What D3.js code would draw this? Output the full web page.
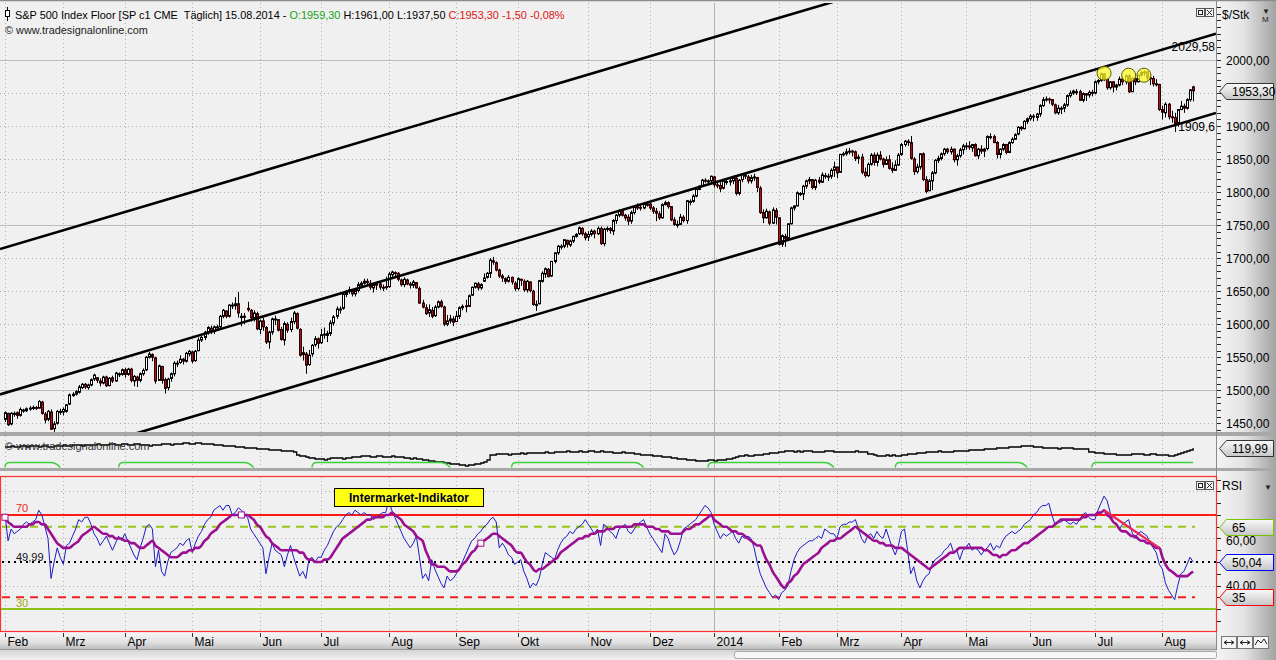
<!DOCTYPE html>
<html><head><meta charset="utf-8"><title>S&P 500 Index Floor</title>
<script src="https://cdn.jsdelivr.net/npm/d3@7/dist/d3.min.js"></script>
<style>
html,body{margin:0;padding:0;background:#f0f0f0;overflow:hidden;}
svg{display:block;font-family:"Liberation Sans",Arial,sans-serif;}
</style></head><body>
<svg id="chart" width="1276" height="660"></svg>
<script>
// ================= DATA =================
const monthLabels=["Feb","Mrz","Apr","Mai","Jun","Jul","Aug","Sep","Okt","Nov","Dez","2014","Feb","Mrz","Apr","Mai","Jun","Jul","Aug"];
const monthStart=[0,19,39,61,83,103,125,147,167,190,210,231,252,271,292,313,334,355,377];
const priceTicks=[1450,1500,1550,1600,1650,1700,1750,1800,1850,1900,1950,2000];
const priceLabels=[1450,1500,1550,1600,1650,1700,1750,1800,1850,1900,2000];
const priceMajor=[1500,1750,2000];

const openP=[
1456,1465,1449,1464,1466,1462,1470,1469,1472,1473,1474,1473,1482,1464,1456,1467,1442,1450,1467,
1467,1468,1479,1492,1494,1497,1504,1509,1504,1508,1517,1519,1514,1511,1520,1507,1519,1514,1525,1524,
1531,1524,1532,1514,1520,1515,1525,1531,1550,1554,1549,1515,1536,1516,1504,1518,1525,1540,1542,1547,1544,1555,
1558,1545,1560,1576,1580,1588,1594,1589,1595,1596,1612,1620,1612,1628,1628,1631,1610,1612,1624,1621,1610,1616,
1592,1605,1595,1573,1588,1608,1607,1592,1576,1600,1592,1604,1616,1592,1554,1555,1539,1555,1569,1578,
1572,1584,1583,1586,1602,1612,1622,1624,1645,1650,1651,1646,1651,1659,1662,1665,1662,1655,1659,1661,1656,1657,
1657,1675,1678,1677,1667,1660,1667,1661,1659,1663,1654,1632,1625,1617,1621,1613,1626,1634,1626,1600,1605,1608,
1604,1612,1625,1628,1627,1644,1656,1661,1655,1665,1671,1677,1696,1693,1682,1673,1669,1665,1671,1662,
1654,1668,1665,1652,1664,1650,1630,1631,1665,1676,1683,1673,1695,1708,1718,1718,1727,1720,1726,1733,1737,1745,1737,
1732,1736,1741,1737,1745,1722,1744,1745,1741,1757,1765,1772,1765,1762,1756,1769,1778,1777,1776,1782,
1782,1776,1771,1767,1761,1781,1784,1778,1758,1751,1751,1762,1757,1786,1786,1794,1804,1809,1818,1817,1817,
1823,1811,1810,1806,1816,1816,1817,1821,1798,1819,1826,1823,1817,1822,1822,1806,1769,1761,1770,1753,1772,
1761,1721,1733,1730,1752,1776,1779,1798,1797,1809,1817,1819,1807,1818,1815,1825,1823,1824,1833,
1838,1830,1857,1858,1861,1862,1861,1851,1853,1830,1825,1842,1856,1845,1856,1850,1842,1849,1836,1833,1841,
1857,1872,1877,1875,1850,1831,1838,1858,1819,1802,1817,1829,1848,1851,1858,1865,1861,1865,1849,1855,1864,
1870,1870,1867,1872,1855,1865,1862,1866,1884,1884,1875,1857,1865,1872,1860,1875,1880,1888,1898,1896,1907,
1911,1915,1913,1918,1931,1940,1941,1940,1932,1920,1927,1927,1932,1946,1950,1952,1952,1939,1949,1947,1951,
1950,1967,1969,1979,1971,1958,1967,1959,1962,1971,1967,1976,1952,1972,1967,1977,1981,1982,1973,1972,1964,1963,
1925,1920,1933,1914,1913,1904,1925,1930,1927,1940,1959.3];
const highP=[
1468,1466,1467,1468,1468,1474,1472,1474,1476,1477,1476,1485,1484,1467,1470,1471,1453,1470,1472,
1474,1479,1495,1497,1500,1508,1511,1511,1510,1518,1525,1520,1518,1522,1522,1520,1522,1528,1527,1533,
1534,1534,1534,1523,1522,1527,1533,1552,1558,1556,1551,1539,1537,1519,1519,1527,1544,1545,1553,1549,1558,1561,
1560,1561,1580,1582,1590,1597,1598,1598,1599,1614,1623,1621,1630,1633,1641,1649,1617,1617,1634,1623,1621,1619,
1607,1610,1597,1590,1610,1613,1607,1596,1604,1603,1610,1620,1618,1594,1566,1558,1561,1570,1582,1580,
1593,1595,1590,1606,1614,1627,1627,1648,1652,1657,1653,1654,1664,1665,1669,1669,1667,1662,1664,1663,1660,1672,
1679,1681,1680,1679,1669,1671,1669,1664,1667,1664,1657,1637,1630,1630,1626,1629,1636,1637,1628,1614,1614,1612,
1620,1627,1630,1637,1645,1657,1663,1664,1662,1677,1679,1700,1702,1695,1684,1676,1671,1674,1672,1665,
1671,1669,1668,1667,1665,1652,1636,1667,1680,1686,1685,1696,1709,1720,1721,1729,1728,1728,1734,1738,1748,1747,1740,
1741,1744,1743,1748,1748,1746,1748,1747,1759,1767,1774,1774,1767,1766,1772,1780,1783,1780,1785,1786,
1784,1779,1776,1771,1783,1787,1786,1779,1762,1757,1767,1765,1788,1789,1797,1805,1810,1820,1821,1819,1825,
1824,1816,1815,1820,1820,1821,1825,1823,1820,1829,1829,1826,1826,1828,1823,1809,1774,1775,1772,1777,1776,
1762,1736,1737,1753,1778,1780,1801,1800,1811,1819,1823,1820,1820,1823,1830,1829,1828,1836,1846,
1839,1858,1861,1866,1867,1864,1863,1857,1858,1837,1845,1859,1860,1860,1862,1852,1854,1856,1845,1848,1859,
1874,1879,1880,1885,1853,1843,1859,1860,1824,1820,1832,1850,1855,1860,1867,1867,1869,1866,1858,1867,1873,
1875,1877,1873,1874,1867,1871,1867,1886,1889,1887,1877,1866,1874,1873,1877,1883,1889,1900,1900,1909,1913,
1918,1918,1920,1933,1944,1945,1943,1941,1934,1932,1930,1935,1948,1954,1955,1956,1955,1951,1950,1954,1955,
1969,1971,1981,1980,1972,1968,1968,1964,1975,1975,1978,1979,1974,1973,1978,1983,1984,1983,1976,1976,1971,1964,
1931,1936,1935,1923,1920,1926,1938,1934,1942,1956,1961];
const lowP=[
1452,1446,1447,1460,1457,1460,1466,1467,1469,1470,1470,1472,1463,1450,1453,1440,1437,1448,1463,
1462,1466,1478,1490,1492,1495,1502,1502,1501,1506,1514,1511,1506,1509,1505,1506,1511,1513,1520,1522,
1519,1522,1512,1506,1505,1512,1522,1529,1548,1544,1510,1516,1510,1495,1500,1513,1521,1535,1540,1539,1542,1551,
1541,1543,1559,1573,1576,1584,1585,1585,1590,1593,1609,1609,1610,1623,1622,1610,1597,1600,1619,1604,1604,1591,
1585,1590,1570,1563,1584,1599,1589,1575,1568,1587,1588,1600,1592,1551,1545,1525,1537,1551,1566,1563,
1570,1578,1573,1582,1598,1608,1616,1622,1641,1646,1642,1642,1648,1655,1660,1659,1652,1648,1652,1652,1650,1652,
1655,1670,1673,1665,1657,1656,1659,1654,1655,1654,1631,1624,1614,1611,1609,1611,1624,1625,1597,1597,1601,1597,
1604,1608,1621,1618,1626,1643,1654,1651,1652,1664,1669,1670,1690,1680,1670,1664,1661,1663,1660,1650,
1651,1658,1649,1648,1648,1628,1620,1630,1663,1670,1671,1672,1692,1705,1713,1715,1716,1717,1723,1731,1735,1734,1727,
1726,1733,1730,1735,1720,1718,1740,1737,1735,1752,1762,1763,1757,1750,1752,1766,1773,1772,1774,1778,
1773,1767,1756,1758,1760,1780,1775,1756,1749,1746,1750,1754,1752,1780,1784,1792,1803,1808,1814,1813,1814,
1807,1806,1800,1804,1811,1810,1812,1795,1795,1815,1820,1813,1813,1817,1800,1767,1753,1760,1750,1752,1751,
1719,1717,1717,1729,1751,1772,1779,1794,1788,1805,1812,1804,1803,1812,1814,1820,1817,1820,1823,
1821,1829,1854,1855,1857,1854,1847,1843,1827,1822,1823,1840,1840,1839,1848,1837,1841,1834,1829,1832,1840,
1855,1869,1870,1849,1826,1828,1834,1817,1798,1802,1803,1827,1844,1848,1855,1858,1857,1845,1840,1852,1857,
1864,1864,1861,1854,1850,1858,1853,1863,1880,1874,1851,1851,1862,1857,1859,1873,1879,1886,1893,1895,1903,
1908,1907,1908,1914,1929,1937,1934,1930,1918,1917,1918,1921,1929,1943,1947,1947,1938,1936,1938,1943,1945,
1948,1963,1967,1968,1955,1955,1951,1954,1960,1962,1963,1950,1952,1962,1966,1975,1976,1969,1962,1960,1960,1923,
1910,1913,1910,1905,1891,1899,1924,1920,1925,1937,1937.5];
const closeP=[
1466,1448,1465,1465,1462,1471,1470,1472,1473,1474,1473,1483,1465,1455,1468,1441,1449,1468,1468,
1471,1478,1493,1494,1498,1505,1509,1505,1508,1516,1523,1515,1511,1520,1507,1518,1514,1526,1525,1531,
1524,1532,1515,1521,1515,1525,1530,1550,1555,1550,1514,1537,1515,1503,1517,1525,1541,1541,1547,1544,1556,1559,
1544,1559,1576,1580,1588,1595,1589,1596,1596,1612,1621,1612,1629,1629,1631,1617,1612,1612,1622,1610,1617,1593,
1605,1596,1573,1588,1608,1608,1591,1577,1601,1591,1604,1617,1594,1553,1557,1538,1553,1568,1578,1571,
1584,1585,1586,1602,1611,1623,1623,1645,1650,1652,1646,1651,1660,1662,1665,1663,1656,1660,1662,1656,1656,1656,
1676,1679,1677,1668,1660,1668,1661,1659,1664,1655,1632,1626,1616,1622,1612,1626,1634,1627,1600,1605,1608,1603,
1612,1625,1627,1627,1643,1656,1662,1655,1660,1670,1677,1697,1694,1682,1673,1670,1665,1671,1664,1654,
1669,1667,1652,1665,1651,1630,1630,1666,1677,1684,1672,1695,1708,1718,1718,1728,1721,1726,1733,1736,1746,1737,1731,
1736,1741,1737,1745,1722,1744,1745,1742,1757,1765,1772,1765,1761,1756,1769,1778,1776,1776,1782,1780,
1776,1771,1768,1761,1781,1784,1778,1758,1751,1751,1762,1757,1787,1786,1794,1804,1809,1818,1817,1817,1824,
1811,1810,1805,1817,1816,1817,1822,1798,1818,1827,1824,1817,1822,1823,1807,1769,1761,1771,1753,1773,1762,
1721,1734,1730,1752,1776,1779,1799,1798,1809,1817,1819,1807,1818,1815,1826,1824,1824,1833,1838,
1829,1857,1858,1861,1862,1861,1851,1853,1830,1825,1842,1856,1845,1856,1850,1842,1849,1836,1833,1841,1856,
1872,1877,1875,1851,1831,1838,1858,1819,1801,1817,1829,1848,1851,1858,1865,1861,1865,1849,1855,1864,1870,
1870,1868,1872,1855,1865,1862,1865,1884,1884,1875,1857,1865,1872,1860,1875,1880,1887,1898,1896,1907,1911,
1915,1914,1918,1931,1940,1941,1940,1933,1920,1927,1927,1932,1946,1950,1953,1952,1939,1949,1947,1951,1950,
1967,1969,1979,1971,1958,1967,1959,1962,1971,1967,1976,1952,1972,1967,1977,1981,1982,1973,1972,1964,1964,1925,
1921,1933,1914,1913,1904,1925,1930,1927,1940,1954.8,1953.3];

// channel lines: [barA, priceA, barB, priceB]
const channelLines=[[0,1716,387,2249.7],[0,1495.9,387,2029.58],[0,1375.9,387,1909.6]];
const channelLabels=[["2029,58",2029.58],["1909,6",1909.6]];
const highlights=[[358,1980],[366,1977],[371,1977]];
const lastClose=1953.30;

// Intermarket line (middle panel)
const interLine=[
121,121,122,121,121,122,122,121,122,122,122,121,122,122,121,121,
122,122,122,123,122,122,123,123,123,122,123,123,123,123,124,123,
123,123,124,124,123,123,124,124,123,123,124,124,123,123,123,122,
123,123,123,124,124,124,123,124,124,124,125,125,124,124,
125,125,124,124,124,124,123,123,123,122,122,122,122,121,121,121,120,120,
120,120,119,119,119,119,118,118,118,118,117,117,117,117,116,113,112,
112,111,110,110,109,109,109,108,109,110,110,110,110,109,110,110,111,
111,111,112,112,112,111,111,112,112,111,111,111,112,111,111,111,110,110,109,110,109,109,108,
108,107,107,106,106,106,105,105,104,104,104,103,103,102,103,103,104,104,105,106,108,
113,113,114,114,114,114,113,114,114,114,115,114,115,
115,115,115,115,115,116,115,115,116,116,116,116,117,116,116,116,117,116,116,117,117,116,116,117,116,116,116,115,115,115,116,115,115,115,114,114,113,113,
113,113,112,112,112,111,111,111,110,110,109,109,109,108,108,108,107,107,107,107,108,108,
107,108,108,108,109,109,110,111,112,112,113,112,112,113,113,113,114,114,115,115,
115,116,116,117,117,117,116,117,116,117,117,117,116,116,116,116,117,117,117,116,116,116,116,116,116,116,117,116,116,116,
114,114,113,112,112,112,113,112,113,112,112,113,113,114,114,114,115,115,115,116,
116,116,116,117,116,116,116,116,117,117,117,117,117,118,118,118,118,118,119,119,119,119,120,120,120,120,121,121,121,121,
122,122,122,122,121,121,121,120,120,120,120,120,119,120,120,120,120,119,119,119,119,119,
116,116,115,115,115,114,114,114,114,113,113,113,113,113,114,114,114,114,113,113,114,114,
113,113,113,113,112,112,113,114,115,116,117,118,119.99];
const interLast=119.99;
const regimeSegs=[[0,18],[37,81],[100,145],[165,208],[229,270],[290,333],[354,387]];

// RSI panel
const rsiBlue=[
70,59,64,62,63,64,66,67,66,67,68,72,70,65,60,43,50,56,52,49,
57,58,61,64,68,67,69,69,66,62,60,57,59,61,58,55,58,61,59,
62,59,56,53,51,56,60,65,66,64,48,55,46,44,50,54,55,56,58,57,59,60,
54,58,61,63,66,68,69,72,73,74,72,74,74,70,71,73,72,70,69,64,62,60,
58,56,45,52,58,55,54,53,48,53,57,52,48,44,46,43,51,52,50,52,
52,55,57,60,63,65,66,68,70,71,70,72,71,70,71,70,70,68,69,70,71,71,
76,72,69,66,63,60,58,56,58,61,52,43,45,42,51,47,44,41,39,44,42,43,
45,47,50,53,56,59,60,62,63,65,66,68,69,67,56,58,56,53,52,49,
50,51,46,43,39,41,40,43,49,54,53,52,51,55,58,60,61,63,62,64,65,66,68,
66,64,62,64,57,66,65,63,62,60,64,65,66,63,62,64,66,67,68,65,
62,60,58,56,54,62,60,56,53,55,59,64,65,66,67,68,70,72,74,73,71,
66,63,60,62,61,62,63,60,58,61,60,61,60,56,50,45,42,39,37,35,36,
34,37,38,40,46,51,54,56,57,58,59,59,60,61,60,64,63,62,62,
60,65,66,66,67,67,68,64,60,58,61,62,60,63,61,60,64,60,56,53,57,
63,64,55,45,48,42,39,42,44,45,49,51,52,53,55,56,58,54,55,51,55,
56,58,55,56,55,53,55,56,58,55,57,56,59,61,62,63,62,63,64,66,67,
68,70,71,73,74,74,75,70,66,67,67,68,67,66,67,66,68,70,71,69,68,
68,72,75,78,76,71,67,66,64,66,67,68,63,60,62,63,62,61,58,56,54,49,
47,41,38,36,34,40,45,46,49,52,50.04];
const rsiAvg=[
69,67,66,65,65,65,65,65,66,66,67,67,66,66,64,62,60,58,57,56,
56,56,57,58,59,61,62,63,64,65,64,63,62,62,61,61,60,60,60,59,
59,58,58,57,56,56,57,58,59,57,56,55,54,53,52,52,52,53,54,54,
55,55,56,56,57,59,60,62,63,64,66,67,68,69,70,70,70,70,70,70,
69,68,66,65,63,61,60,58,57,56,55,55,55,55,55,55,54,54,52,51,
51,50,50,50,51,51,52,54,56,58,60,61,62,63,64,65,66,67,68,68,
69,69,69,69,70,70,71,70,69,68,66,65,64,63,61,60,59,55,52,49,
49,48,48,48,47,46,46,46,47,49,50,52,54,55,57,58,59,60,61,62,
62,61,60,59,58,57,55,54,54,52,50,49,47,46,47,47,48,49,50,51,
52,54,55,56,57,58,59,60,60,61,61,62,62,63,63,63,64,64,64,65,
65,65,65,65,65,66,66,66,66,65,65,65,64,64,63,63,63,62,62,62,
62,63,64,64,65,66,66,67,68,69,70,68,67,66,65,65,64,63,63,62,
62,61,60,59,58,57,57,54,51,49,46,44,42,40,39,41,42,44,45,47,
49,50,51,52,53,54,56,57,58,59,59,60,60,61,62,63,64,65,64,63,
62,61,60,59,59,58,58,57,57,57,56,56,56,55,54,53,52,51,50,49,
48,47,48,49,50,51,52,53,54,54,55,56,56,56,56,56,56,56,56,55,
55,54,53,53,52,53,53,54,55,55,56,57,58,58,59,60,61,62,63,64,
65,65,66,67,68,68,68,68,68,68,68,69,69,70,70,70,71,71,72,70,
69,67,66,64,63,63,62,61,61,60,59,59,58,58,57,56,56,52,49,47,
46,45,44,44,44,44,45,46];
const rsiLevelUpper=70, rsiLevelOB=65, rsiLevelMid=49.99, rsiLevelOS=35, rsiLevelLower=30;
const rsiAxisLabels=[40,60];
const rsiGrid=[40,60,80];
const avgMarks=[0,77,155];
const rsiTrend=[[358,72],[376,56]];
const rsiLast=50.04;

// ================= DRAW =================
const W=1276,H=660,PR=1216;
const svg=d3.select("#chart");
const x=d3.scaleLinear().domain([0,387]).range([5,1193.1]);
const yP=d3.scaleLinear().domain([1450,2000]).range([423.3,60]);
const yM=d3.scaleLinear().domain([100,120]).range([468,448]);
const yR=d3.scaleLinear().domain([35,65]).range([597.3,526.7]);
const fmt2=v=>d3.format(".2f")(v).replace(".",",");
const px=i=>Math.round(x(i));

const defs=svg.append("defs");
function grad(id,vert,stops){const g=defs.append("linearGradient").attr("id",id).attr("x1",0).attr("y1",0).attr("x2",vert?0:1).attr("y2",vert?1:0);stops.forEach(s=>g.append("stop").attr("offset",s[0]).attr("stop-color",s[1]));}
grad("gAx",false,[[0,"#f3f3f3"],[0.45,"#e4e4e4"],[1,"#a2a2a2"]]);
grad("gBot",true,[[0,"#f7f7f7"],[0.55,"#e2e2e2"],[1,"#b9b9b9"]]);
grad("gMk",true,[[0,"#fafafa"],[1,"#c6c6c6"]]);
grad("gScr",true,[[0,"#d4d4d4"],[1,"#f2f2f2"]]);
function clip(id,x0,y0,w,h){defs.append("clipPath").attr("id",id).append("rect").attr("x",x0).attr("y",y0).attr("width",w).attr("height",h);}
clip("cMain",0,3,PR,429);
clip("cMid",0,437,PR,31);
clip("cRsi",1,477,PR-1,154);

// backgrounds
svg.append("rect").attr("width",W).attr("height",H).attr("fill","#f0f0f0");
svg.append("rect").attr("x",PR+1).attr("y",0).attr("width",W-PR-1).attr("height",H).attr("fill","url(#gAx)");
svg.append("rect").attr("x",0).attr("y",632).attr("width",PR+1).attr("height",18).attr("fill","url(#gBot)");
svg.append("line").attr("x1",0).attr("x2",PR+1).attr("y1",649.5).attr("y2",649.5).attr("stroke","#9a9a9a");
svg.append("rect").attr("x",0).attr("y",650).attr("width",PR+1).attr("height",10).attr("fill","url(#gScr)");
svg.append("rect").attr("x",734.5).attr("y",651.5).attr("width",482).attr("height",7).attr("rx",2).attr("fill","#f6f6f6").attr("stroke","#a6a6a6");
svg.append("line").attr("x1",0).attr("x2",W).attr("y1",0.5).attr("y2",0.5).attr("stroke","#8c8c8c").attr("stroke-width",1.5);

// separators
[[432,4],[468,3]].forEach(s=>svg.append("rect").attr("x",0).attr("y",s[0]).attr("width",W).attr("height",s[1]).attr("fill","#a8a8a8"));
svg.append("line").attr("x1",PR+0.5).attr("x2",PR+0.5).attr("y1",0).attr("y2",650).attr("stroke","#8a8a8a");

// ---- grid
const grid=svg.append("g");
priceTicks.forEach(p=>{
  const y=Math.round(yP(p))+0.5;
  grid.append("line").attr("x1",0).attr("x2",PR).attr("y1",y).attr("y2",y)
   .attr("stroke",priceMajor.includes(p)?"#bcbcbc":"#b0b0b0")
   .attr("stroke-dasharray",priceMajor.includes(p)?null:"1,3");
});
rsiGrid.forEach(v=>{const y=Math.round(yR(v))+0.5;grid.append("line").attr("x1",1).attr("x2",PR).attr("y1",y).attr("y2",y).attr("stroke","#b0b0b0").attr("stroke-dasharray","1,3");});
monthStart.forEach((m,k)=>{
  const xx=px(m)+0.5, isYear=monthLabels[k]==="2014";
  [[3,432],[436,468],[477,631]].forEach(r=>{
    grid.append("line").attr("x1",xx).attr("x2",xx).attr("y1",r[0]).attr("y2",r[1])
      .attr("stroke",isYear?"#a6bca6":"#b0b0b0").attr("stroke-dasharray",isYear?null:"1,3");
  });
});

// ---- main price panel
const gMain=svg.append("g").attr("clip-path","url(#cMain)");
const bars=d3.range(closeP.length).map(i=>({i,o:openP[i],c:closeP[i],h:Math.max(highP[i],openP[i],closeP[i]),l:Math.min(lowP[i],openP[i],closeP[i])}));
gMain.selectAll("line.wick").data(bars).join("line").attr("class","wick")
  .attr("x1",d=>px(d.i)+0.5).attr("x2",d=>px(d.i)+0.5).attr("y1",d=>yP(d.h)).attr("y2",d=>yP(d.l))
  .attr("stroke","#000").attr("stroke-width",1);
gMain.selectAll("rect.body").data(bars).join("rect").attr("class","body")
  .attr("x",d=>px(d.i)-0.5).attr("width",2)
  .attr("y",d=>Math.min(yP(d.o),yP(d.c))).attr("height",d=>Math.max(1,Math.abs(yP(d.o)-yP(d.c))))
  .attr("fill",d=>d.c>=d.o?"#ffffff":"#a3191b").attr("stroke",d=>d.c>=d.o?"#000":"#300000").attr("stroke-width",1);

channelLines.forEach(c=>{
  const s=(c[3]-c[1])/(c[2]-c[0]);
  const ia=x.invert(0), ib=x.invert(PR);
  gMain.append("line").attr("x1",0).attr("x2",PR)
    .attr("y1",yP(c[1]+s*(ia-c[0]))).attr("y2",yP(c[1]+s*(ib-c[0])))
    .attr("stroke","#000").attr("stroke-width",2.6);
});
gMain.selectAll("circle.hl").data(highlights).join("circle").attr("class","hl")
  .attr("cx",d=>x(d[0])).attr("cy",d=>yP(d[1])).attr("r",7)
  .attr("fill","rgba(255,255,40,0.72)").attr("stroke","#5c5c00").attr("stroke-width",1);
channelLabels.forEach(l=>{
  svg.append("text").attr("x",PR-1).attr("y",yP(l[1])+11).attr("text-anchor","end").attr("font-size",12).attr("fill","#000").text(l[0]);
});

// price axis
const ax=svg.append("g");
d3.range(1440,2081,10).forEach(v=>{const y=Math.round(yP(v))+0.5;ax.append("line").attr("x1",PR+1).attr("x2",PR+5).attr("y1",y).attr("y2",y).attr("stroke","#222");});
priceLabels.forEach(p=>{ax.append("text").attr("x",1226).attr("y",yP(p)+4.5).attr("font-size",12).attr("fill","#000").text(fmt2(p));});

function marker(yc,label,stroke){
  const g=svg.append("g");
  g.append("path").attr("d",`M1219.5,${yc} L1226.5,${yc-8} L1273.5,${yc-8} L1273.5,${yc+8} L1226.5,${yc+8} Z`)
   .attr("fill","url(#gMk)").attr("stroke",stroke).attr("stroke-width",1);
  g.append("text").attr("x",1232).attr("y",yc+4.5).attr("font-size",12).attr("fill","#000").text(label);
}
marker(Math.round(yP(lastClose))+0.5,fmt2(lastClose),"#333");

// header
const hdrParts=[["S&P 500 Index Floor [SP c1 CME  T\u00e4glich] 15.08.2014 - ","#000"],["O:1959,30","#16a016"],[" H:1961,00 L:1937,50 ","#000"],["C:1953,30 -1,50 -0,08%","#e01414"]];
const hdr=svg.append("text").attr("x",15).attr("y",18.5).attr("font-size",11).style("white-space","pre");
hdrParts.forEach(p=>hdr.append("tspan").attr("fill",p[1]).text(p[0]));
const hw=hdr.node().getComputedTextLength(); hdr.attr("font-size",11*550/hw);
svg.append("line").attr("x1",7.5).attr("x2",7.5).attr("y1",7).attr("y2",21).attr("stroke","#000");
svg.append("rect").attr("x",5.5).attr("y",10.5).attr("width",4).attr("height",6).attr("fill","#fff").attr("stroke","#000");
const cp=svg.append("text").attr("x",5).attr("y",34).attr("font-size",11).attr("fill","#222").text("\u00a9 www.tradesignalonline.com");
cp.attr("font-size",11*143/cp.node().getComputedTextLength());
svg.append("text").attr("x",1222).attr("y",19).attr("font-size",12).attr("fill","#000").text("$/Stk");
svg.append("text").attr("x",1262).attr("y",14).attr("font-size",8).attr("fill","#222").text("\u25bc");
svg.append("text").attr("x",1262).attr("y",22).attr("font-size",8).attr("fill","#222").text("M");
function winBtns(y){
  svg.append("rect").attr("x",1196.5).attr("y",y+0.5).attr("width",8).attr("height",8).attr("fill","#f4f4f4").attr("stroke","#555");
  svg.append("rect").attr("x",1198.5).attr("y",y+2.5).attr("width",4).attr("height",4).attr("fill","none").attr("stroke","#222");
  svg.append("rect").attr("x",1205.5).attr("y",y+0.5).attr("width",8).attr("height",8).attr("fill","#f4f4f4").attr("stroke","#555");
  svg.append("path").attr("d",`M${1207},${y+2} L${1212},${y+7} M${1212},${y+2} L${1207},${y+7}`).attr("stroke","#222");
}
winBtns(8);

// ---- middle panel
const gMid=svg.append("g").attr("clip-path","url(#cMid)");
svg.append("text").attr("x",5).attr("y",450).attr("font-size",11).attr("fill","#333").text("\u00a9 www.tradesignalonline.com");
gMid.append("path").datum(interLine).attr("fill","none").attr("stroke","#000").attr("stroke-width",1.3)
  .attr("d",d3.line().x((d,i)=>x(i)).y(d=>yM(d)).curve(d3.curveStepAfter));
regimeSegs.forEach(s=>{
  const a=x(s[0]), b=x(s[1]), yu=462.5, yl=467.5, last=s[1]>=386;
  const d=`M${a},${yl} Q${a},${yu} ${a+5},${yu} L${last?b:b-10},${yu}`+(last?"":` Q${b-4},${yu} ${b},${yl}`);
  gMid.append("path").attr("d",d).attr("fill","none").attr("stroke","#3ccf3c").attr("stroke-width",1.4);
});
marker(Math.round(yM(interLast))+0.5,fmt2(interLast),"#333");

// ---- RSI panel
svg.append("rect").attr("x",0.5).attr("y",476.5).attr("width",PR).attr("height",155).attr("fill","none").attr("stroke","#ff3030").attr("stroke-width",1.2);
const gR=svg.append("g").attr("clip-path","url(#cRsi)");
gR.append("line").attr("x1",0).attr("x2",PR).attr("y1",yR(rsiLevelUpper)).attr("y2",yR(rsiLevelUpper)).attr("stroke","#ff1a1a").attr("stroke-width",2);
gR.append("line").attr("x1",0).attr("x2",PR).attr("y1",yR(rsiLevelLower)).attr("y2",yR(rsiLevelLower)).attr("stroke","#8cc21c").attr("stroke-width",2);
gR.append("line").attr("x1",2).attr("x2",1195).attr("y1",yR(rsiLevelOB)).attr("y2",yR(rsiLevelOB)).attr("stroke","#99c61a").attr("stroke-width",2).attr("stroke-dasharray","8,6");
gR.append("line").attr("x1",2).attr("x2",1195).attr("y1",yR(rsiLevelOS)).attr("y2",yR(rsiLevelOS)).attr("stroke","#f02020").attr("stroke-width",2).attr("stroke-dasharray","8,6");
gR.append("line").attr("x1",2).attr("x2",PR).attr("y1",yR(rsiLevelMid)).attr("y2",yR(rsiLevelMid)).attr("stroke","#000").attr("stroke-width",2).attr("stroke-dasharray","2,4");
gR.append("path").datum(rsiBlue).attr("fill","none").attr("stroke","#1c1cc4").attr("stroke-width",1)
  .attr("d",d3.line().x((d,i)=>x(i)).y(d=>yR(d)));
gR.append("path").datum(rsiAvg).attr("fill","none").attr("stroke","#9b0f93").attr("stroke-width",2.6).attr("stroke-linejoin","round")
  .attr("d",d3.line().x((d,i)=>x(i)).y(d=>yR(d)).curve(d3.curveMonotoneX));
gR.append("path").datum(rsiTrend).attr("fill","none").attr("stroke","#e8285a").attr("stroke-width",2.4)
  .attr("d",d3.line().x(d=>x(d[0])).y(d=>yR(d[1])));
gR.selectAll("rect.am").data(avgMarks).join("rect").attr("class","am")
  .attr("x",d=>x(d)-3).attr("y",d=>yR(rsiAvg[d])-3).attr("width",6).attr("height",6)
  .attr("fill","#fff").attr("stroke","#9b0f93").attr("stroke-width",1);
svg.append("text").attr("x",16).attr("y",512).attr("font-size",11).attr("fill","#f02020").text(String(rsiLevelUpper));
svg.append("text").attr("x",16).attr("y",561).attr("font-size",11).attr("fill","#111").text(fmt2(rsiLevelMid));
svg.append("text").attr("x",16).attr("y",607).attr("font-size",11).attr("fill","#9aaa10").text(String(rsiLevelLower));
svg.append("rect").attr("x",334.5).attr("y",488.5).attr("width",149).attr("height",18).attr("fill","#ffff14").attr("stroke","#000");
svg.append("text").attr("x",409).attr("y",502).attr("text-anchor","middle").attr("font-size",12).attr("font-weight","bold").attr("fill","#000022").text("Intermarket-Indikator");
// rsi axis
d3.range(25,86,5).forEach(v=>{const y=Math.round(yR(v))+0.5;svg.append("line").attr("x1",PR+1).attr("x2",PR+5).attr("y1",y).attr("y2",y).attr("stroke","#222");});
const rsiLabelDy={60:6.5,40:4.5};
rsiAxisLabels.forEach(v=>svg.append("text").attr("x",1226).attr("y",yR(v)+rsiLabelDy[v]).attr("font-size",12).attr("fill","#000").text(fmt2(v)));
marker(Math.round(yR(rsiLevelOB))+0.5,String(rsiLevelOB),"#7cc000");
marker(Math.round(yR(rsiLast))+0.5,fmt2(rsiLast),"#0000ff");
marker(Math.round(yR(rsiLevelOS))+0.5,String(rsiLevelOS),"#ff0000");
svg.append("text").attr("x",1222).attr("y",490).attr("font-size",12).attr("fill","#000").text("RSI");
svg.append("text").attr("x",1264).attr("y",490).attr("font-size",8).attr("fill","#222").text("\u25bc");
winBtns(481);

// ---- time axis
monthStart.forEach((m,k)=>{
  const xx=px(m)+0.5;
  svg.append("line").attr("x1",xx).attr("x2",xx).attr("y1",633).attr("y2",637).attr("stroke","#333");
  svg.append("text").attr("x",xx+2).attr("y",646).attr("font-size",12).attr("fill","#000").text(monthLabels[k]);
});
// bottom right buttons
[1221,1237,1253].forEach((bx,k)=>{
  svg.append("rect").attr("x",bx+0.5).attr("y",636.5).attr("width",15).attr("height",12).attr("fill","#f4f4f4").attr("stroke","#777");
  if(k<2){svg.append("path").attr("d",`M${bx+3},642.5 L${bx+13},642.5 M${bx+3},642.5 l3,-2 M${bx+3},642.5 l3,2 M${bx+13},642.5 l-3,-2 M${bx+13},642.5 l-3,2`).attr("stroke","#222").attr("fill","none");}
  else{svg.append("path").attr("d",`M${bx+2},645 L${bx+5},640 L${bx+8},643 L${bx+11},639 L${bx+14},644`).attr("stroke","#222").attr("fill","none");}
});
</script>
</body></html>
